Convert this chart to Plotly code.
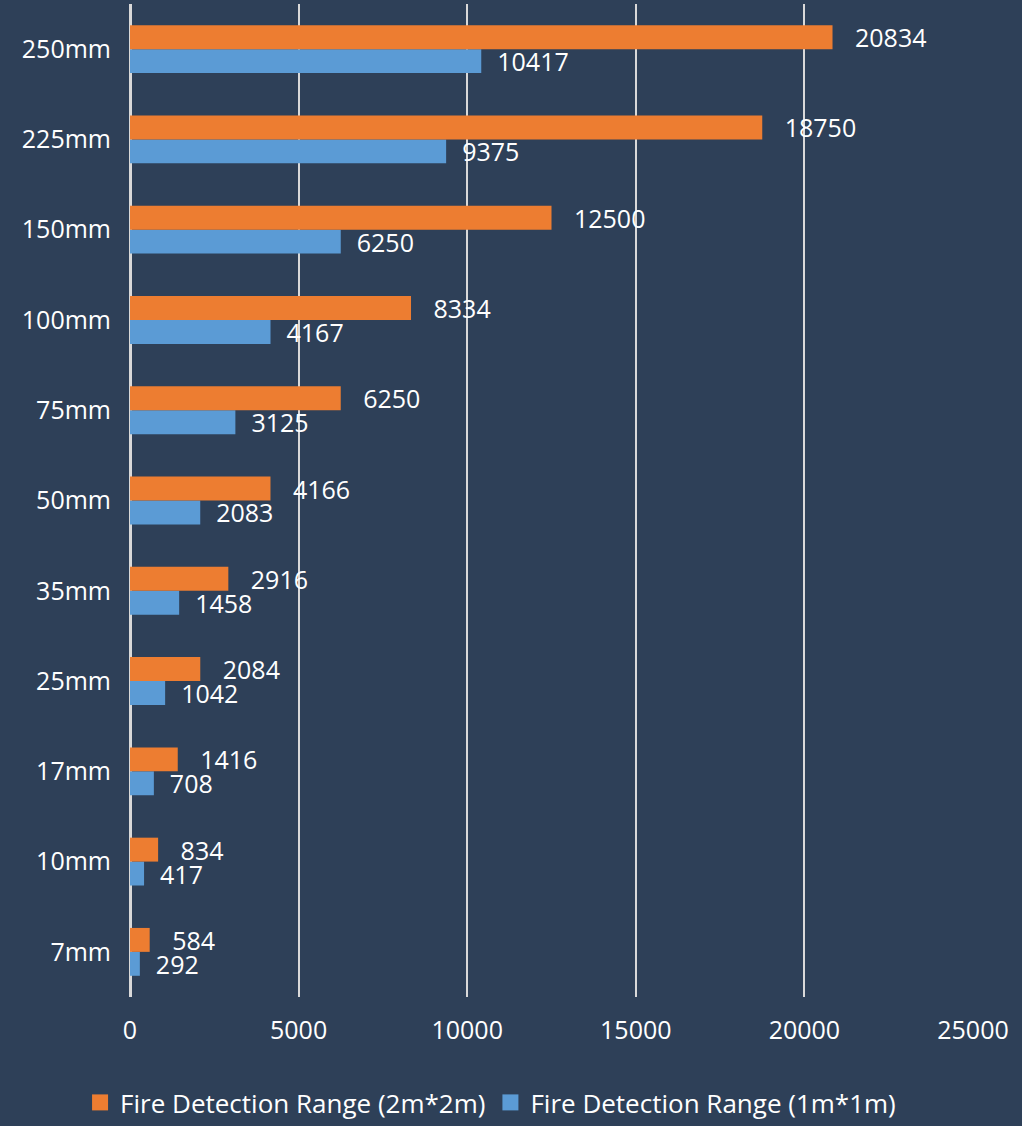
import plotly.graph_objects as go

categories = ["7mm", "10mm", "17mm", "25mm", "35mm", "50mm", "75mm", "100mm", "150mm", "225mm", "250mm"]
range_2m = [584, 834, 1416, 2084, 2916, 4166, 6250, 8334, 12500, 18750, 20834]
range_1m = [292, 417, 708, 1042, 1458, 2083, 3125, 4167, 6250, 9375, 10417]
x_ticks = [0, 5000, 10000, 15000, 20000, 25000]

BG = "#2E4058"
ORANGE = "#ED7D31"
BLUE = "#5B9BD5"
FONT = "Open Sans"
pad = "\u00a0\u00a0"
name_2m = "Fire Detection Range (2m*2m)"
name_1m = "Fire Detection Range (1m*1m)"

fig = go.Figure()
fig.add_trace(go.Bar(
    y=categories, x=range_1m, orientation="h", name=name_1m,
    marker=dict(color=BLUE, line=dict(width=0)),
    text=[pad + str(v) for v in range_1m], textposition="outside",
    textfont=dict(color="white", size=25, family=FONT),
    constraintext="none", cliponaxis=False, showlegend=False,
))
fig.add_trace(go.Bar(
    y=categories, x=range_2m, orientation="h", name=name_2m,
    marker=dict(color=ORANGE, line=dict(width=0)),
    text=[pad + "\u00a0" + str(v) for v in range_2m], textposition="outside",
    textfont=dict(color="white", size=25, family=FONT),
    constraintext="none", cliponaxis=False, showlegend=False,
))
# legend entries with larger square swatches
for nm, col in [(name_2m, ORANGE), (name_1m, BLUE)]:
    fig.add_trace(go.Scatter(
        x=[None], y=[None], mode="markers", name=nm,
        marker=dict(symbol="square", size=20, color=col),
        showlegend=True,
    ))

fig.update_layout(
    width=1022, height=1126,
    paper_bgcolor=BG, plot_bgcolor=BG,
    margin=dict(l=130, r=49, t=4, b=129),
    barmode="group", bargap=0.47, bargroupgap=0,
    font=dict(family=FONT, color="white", size=25),
    showlegend=True,
    legend=dict(
        orientation="h", xref="container", yref="container",
        x=0.48, xanchor="center", y=-0.005, yanchor="bottom",
        font=dict(size=26, color="white", family=FONT),
        bgcolor="rgba(0,0,0,0)", itemwidth=30, traceorder="normal",
    ),
)
fig.update_xaxes(
    range=[0, 25000], tickvals=x_ticks, ticktext=[str(v) for v in x_ticks],
    showgrid=True, gridcolor="#D9D9D9", gridwidth=2,
    zeroline=True, zerolinecolor="#D9D9D9", zerolinewidth=3,
    showline=False, ticks="", ticklabelstandoff=16,
    tickfont=dict(size=25, color="white", family=FONT),
)
fig.update_yaxes(
    type="category", categoryorder="array", categoryarray=categories,
    showgrid=False, zeroline=False, showline=False, ticks="",
    ticklabelstandoff=18,
    tickfont=dict(size=25, color="white", family=FONT),
)

fig.write_html(
    "out.html",
    config={"displayModeBar": False},
    post_script="document.body.style.margin='0';document.body.style.background='" + BG + "';",
)
